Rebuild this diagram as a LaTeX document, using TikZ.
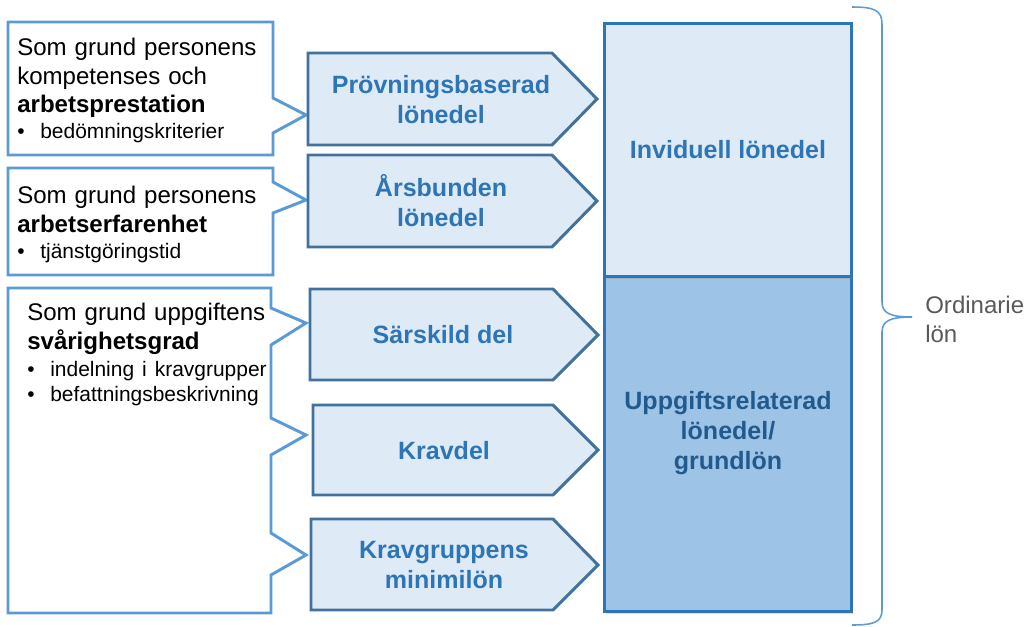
\documentclass[tikz,border=0pt]{standalone}
\usepackage{fontspec}
\setmainfont{Liberation Sans}
\usepackage{tikz}
\usetikzlibrary{shadows}

\definecolor{calloutblue}{HTML}{5B9BD5}
\definecolor{arrowline}{HTML}{41719C}
\definecolor{paleblue}{HTML}{DEEBF7}
\definecolor{midblue}{HTML}{9DC3E6}
\definecolor{boxline}{HTML}{2E75B6}
\definecolor{darkblue}{HTML}{235A8E}
\definecolor{greytext}{HTML}{595959}

\newcommand{\bulletline}[2]{{\fontsize{14.9}{#1}\selectfont\makebox[16.4pt][l]{\textbullet}#2\par}}

\tikzset{
  callout/.style={draw=calloutblue, line width=2.1pt, fill=white},
  arrowpart/.style={draw=arrowline, line width=2.1pt, fill=paleblue},
  arrowtext/.style={font=\fontsize{17.8}{21.3}\selectfont\bfseries, text=boxline, align=center, inner sep=0pt},
  infotext/.style={font=\fontsize{17.1}{20.3}\selectfont, text width=6.6cm, align=left, inner sep=0pt, anchor=north west},
  partbox/.style={draw=boxline, line width=2.5pt, minimum width=247*0.025cm, align=center,
    font=\fontsize{17.8}{21.3}\selectfont\bfseries, drop shadow={shadow xshift=1pt, shadow yshift=-2pt, opacity=0.25}},
  brace/.style={draw=calloutblue, line width=1.1pt}
}

\begin{document}
\begin{tikzpicture}[x=0.025cm, y=-0.025cm]
        \useasboundingbox (0,0) rectangle (1033,626);

        % Callouts on the left
        \draw[callout] (8,22) -- (273,22) -- (273,98) -- (306,115) -- (273,133) -- (273,155) -- (8,155) -- cycle;  % first callout
        \draw[callout] (8,168) -- (273,168) -- (273,182) -- (306,200) -- (273,213) -- (273,275) -- (8,275) -- cycle;  % second callout
        \draw[callout] (8,288) -- (271,288) -- (271,308) -- (306,323) -- (271,345) -- (271,418) -- (306,435) -- (271,455)
              -- (271,533) -- (306,555) -- (271,575) -- (271,613) -- (8,613) -- cycle;  % big callout

        \node[infotext] (kompetens) at (17,38) {Som grund personens\\kompetenses och\\\textbf{arbetsprestation}\par
              \bulletline{18.5}{bedömningskriterier}};
        \node[infotext] (erfarenhet) at (17,186) {Som grund personens\\\textbf{arbetserfarenhet}\par
              \bulletline{18.5}{tjänstgöringstid}};
        \node[infotext] (uppgift) at (27,303) {Som grund uppgiftens\\\textbf{svårighetsgrad}\par
              \bulletline{19.2}{indelning i kravgrupper}\bulletline{17.8}{befattningsbeskrivning}};

        % Arrows in the middle
        \draw[arrowpart] (308,53) -- (552,53) -- (597,99) -- (552,145) -- (308,145) -- cycle;  % first arrow
        \draw[arrowpart] (308,155) -- (552,155) -- (597,201) -- (552,247) -- (308,247) -- cycle;  % second arrow
        \draw[arrowpart] (310,289) -- (553,289) -- (598,335) -- (553,380) -- (310,380) -- cycle;  % third arrow
        \draw[arrowpart] (313,405) -- (553,405) -- (598,450) -- (553,495) -- (313,495) -- cycle;  % fourth arrow
        \draw[arrowpart] (311,519) -- (553,519) -- (598,565) -- (553,610) -- (311,610) -- cycle;  % fifth arrow

        \node[arrowtext] (provning) at (441,100) {Prövningsbaserad\\lönedel};
        \node[arrowtext] (arsbunden) at (441,201) {Årsbunden\\lönedel};
        \node[arrowtext] (sarskild) at (443,335) {Särskild del};
        \node[arrowtext] (kravdel) at (444,451) {Kravdel};
        \node[arrowtext] (minimi) at (444,565) {Kravgruppens\\minimilön};

        % Boxes on the right
        \node[partbox, fill=midblue, text=darkblue, minimum height=357*0.025cm] (grund) at (728,433)
              {Uppgiftsrelaterad\\lönedel/\\grundlön};
        \node[partbox, fill=paleblue, text=boxline, minimum height=253*0.025cm] (indiv) at (728,150)
              {Inviduell lönedel};

        % Brace and its label
        \draw[brace] (852,7) .. controls (874,7) and (882,10) .. (882,24) -- (882,302)
              .. controls (882,313) and (890,317) .. (912,317)
              .. controls (890,317) and (882,321) .. (882,332) -- (882,610)
              .. controls (882,622) and (874,625) .. (852,625);  % brace
        \node[font=\fontsize{17.1}{20.6}\selectfont, text=greytext, align=left, inner sep=0pt, anchor=north west]
              (ordinarie) at (925,296) {Ordinarie\\lön};
    \end{tikzpicture}
\end{document}
